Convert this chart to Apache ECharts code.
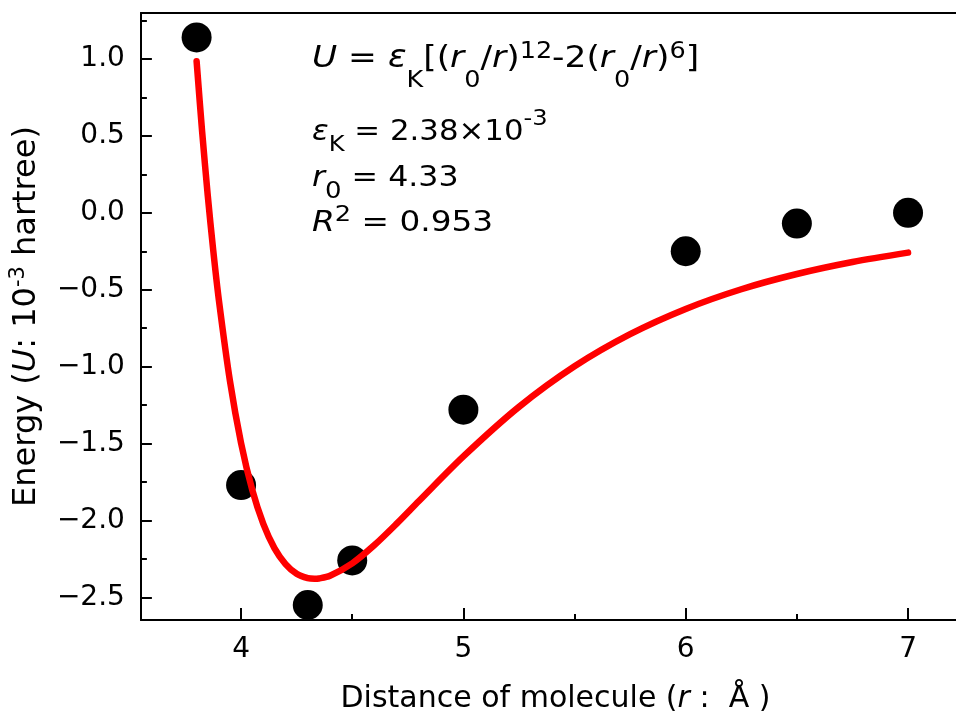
<!DOCTYPE html>
<html>
<head>
<meta charset="utf-8">
<script src="https://cdn.jsdelivr.net/npm/echarts@6/dist/echarts.min.js"></script>
<style>html,body{margin:0;padding:0;background:#fff;}#c{width:956px;height:724px;}</style>
</head>
<body>
<div id="c"></div>
<script>
// Measured points
const distance = [3.8, 4.0, 4.3, 4.5, 5.0, 6.0, 6.5, 7.0];
const energy = [1.14, -1.77, -2.55, -2.26, -1.28, -0.25, -0.07, 0.0];
// Fitted curve
const fitR = [3.8, 3.825, 3.85, 3.875, 3.9, 3.95, 4.0, 4.05, 4.1, 4.15, 4.2, 4.25, 4.3, 4.33, 4.35, 4.4, 4.5, 4.6, 4.7, 4.8, 5.0, 5.25, 5.5, 5.75, 6.0, 6.25, 6.5, 6.75, 7.0];
const fitU = [0.985, 0.525, 0.115, -0.247, -0.566, -1.094, -1.497, -1.800, -2.023, -2.180, -2.284, -2.347, -2.376, -2.380, -2.378, -2.360, -2.279, -2.160, -2.021, -1.874, -1.584, -1.262, -0.998, -0.789, -0.625, -0.497, -0.398, -0.320, -0.259];
// Tick labels
const xMajorTicks = [4, 5, 6, 7];
const xMinorTicks = [4.5, 5.5, 6.5];
const yMajorTicks = [-2.5, -2.0, -1.5, -1.0, -0.5, 0.0, 0.5, 1.0];
const yMinorTicks = [-2.25, -1.75, -1.25, -0.75, -0.25, 0.25, 0.75, 1.25];
const xRange = [3.5494, 7.2157];
const yRange = [-2.6476, 1.2991];

const FF = 'DejaVu Sans';
const chart = echarts.init(document.getElementById('c'));
const black = '#000';
const axisLineStyle = { onZero: false, lineStyle: { color: black, width: 2 } };

function xAx(extra) {
  return Object.assign({ type: 'value', min: xRange[0], max: xRange[1], splitLine: { show: false } }, extra);
}
function yAx(extra) {
  return Object.assign({ type: 'value', min: yRange[0], max: yRange[1], splitLine: { show: false } }, extra);
}

const option = {
  animation: false,
  backgroundColor: '#fff',
  grid: { left: 140, right: 0, top: 13, bottom: 104 },
  xAxis: [
    xAx({
      position: 'bottom',
      axisLine: axisLineStyle,
      axisTick: { inside: true, length: 12, lineStyle: { color: black, width: 2 }, customValues: xMajorTicks },
      axisLabel: { customValues: xMajorTicks, color: black, fontSize: 28, fontFamily: FF, margin: 16 },
      name: 'Distance of molecule ({i|r} :  Å )',
      nameLocation: 'middle',
      nameGap: 64,
      nameTextStyle: {
        color: black, fontSize: 30, fontFamily: FF, padding: [0, 0, 0, 14],
        rich: { i: { color: black, fontSize: 30, fontFamily: FF, fontStyle: 'italic' } }
      }
    }),
    xAx({
      position: 'bottom',
      axisLine: { show: false, onZero: false },
      axisTick: { inside: true, length: 6, lineStyle: { color: black, width: 2 }, customValues: xMinorTicks },
      axisLabel: { show: false }
    }),
    xAx({
      position: 'top',
      axisLine: axisLineStyle,
      axisTick: { show: false },
      axisLabel: { show: false }
    })
  ],
  yAxis: [
    yAx({
      position: 'left',
      axisLine: axisLineStyle,
      axisTick: { inside: true, length: 11, lineStyle: { color: black, width: 2 }, customValues: yMajorTicks },
      axisLabel: {
        customValues: yMajorTicks, color: black, fontSize: 28, fontFamily: FF, margin: 16,
        formatter: function (v) { return (v < 0 ? '\u2212' : '') + Math.abs(v).toFixed(1); }
      },
      name: 'Energy ({i|U}: 10{sup|-3} hartree)',
      nameLocation: 'middle',
      nameGap: 89,
      nameTextStyle: {
        color: black, fontSize: 32, fontFamily: FF, lineHeight: 38,
        rich: {
          i: { color: black, fontSize: 32, fontFamily: FF, fontStyle: 'italic', lineHeight: 38 },
          sup: { color: black, fontSize: 21, fontFamily: FF, lineHeight: 38, verticalAlign: 'top', padding: [0, 0, 0, 0] }
        }
      }
    }),
    yAx({
      position: 'left',
      axisLine: { show: false, onZero: false },
      axisTick: { inside: true, length: 6, lineStyle: { color: black, width: 2 }, customValues: yMinorTicks },
      axisLabel: { show: false }
    })
  ],
  series: [
    {
      type: 'scatter',
      xAxisIndex: 0, yAxisIndex: 0,
      data: distance.map((d, i) => [d, energy[i]]),
      symbol: 'circle', symbolSize: 30,
      itemStyle: { color: black, opacity: 1 },
      z: 2
    },
    {
      type: 'line',
      xAxisIndex: 0, yAxisIndex: 0,
      data: fitR.map((r, i) => [r, fitU[i]]),
      showSymbol: false,
      smooth: 0.3,
      lineStyle: { color: '#ff0000', width: 6.5, cap: 'round', join: 'round' },
      z: 3
    }
  ],
  graphic: (function () {
    function txt(x, y, text, F, sx, rich) {
      return {
        type: 'text', x: x, y: y, scaleX: sx, z: 10,
        style: {
          text: text, fill: black, fontSize: F, fontFamily: FF, lineHeight: 64,
          align: 'left', verticalAlign: 'top', rich: rich
        }
      };
    }
    function it(F) { return { fill: black, fontSize: F, fontFamily: FF, fontStyle: 'italic', lineHeight: 64, verticalAlign: 'middle' }; }
    function shifted(F, P) { return { fill: black, fontSize: F, fontFamily: FF, lineHeight: 64, verticalAlign: 'top', padding: [P, 0, 0, 0] }; }
    return [
      txt(312, 27.3, '{i|U} = {i|ε}{sub|K}[({i|r}{sub|0}/{i|r}){sup|12}-2({i|r}{sub|0}/{i|r}){sup|6}]', 31, 1.11,
        { i: it(31), sub: shifted(23, 41.9), sup: shifted(23, 12.9) }),
      txt(312, 100.3, '{i|ε}{sub|K} = 2.38×10{sup|-3}', 28, 1.10,
        { i: it(28), sub: shifted(22, 33.6), sup: shifted(22, 8.2) }),
      txt(312, 146.3, '{i|r}{sub|0} = 4.33', 28, 1.13,
        { i: it(28), sub: shifted(23, 34.6) }),
      txt(312, 191.3, '{i|R}{sup|2} = 0.953', 28, 1.17,
        { i: it(28), sup: shifted(22, 13.2) })
    ];
  })()
};
chart.setOption(option);
</script>
</body>
</html>
